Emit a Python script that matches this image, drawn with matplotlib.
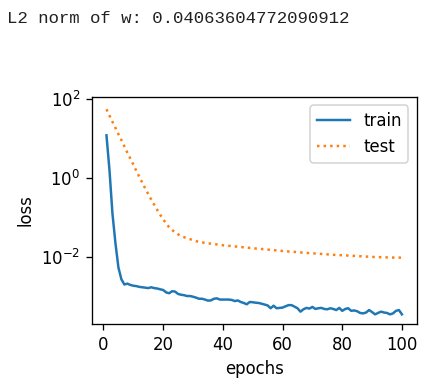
import matplotlib
matplotlib.use('Agg')
import matplotlib.pyplot as plt
from matplotlib.ticker import LogLocator, NullLocator

# Loss per epoch
epochs = list(range(1, 101))

train_loss = [
    12.0, 1.6, 0.126, 0.0224, 0.0054, 0.0027, 0.0020, 0.0021, 0.00195, 0.00186,
    0.00182, 0.00174, 0.0017, 0.00166, 0.00162, 0.0017, 0.00162, 0.00158, 0.00151, 0.00145,
    0.00126, 0.0012, 0.00135, 0.00132, 0.00115, 0.0011, 0.00107, 0.00102, 0.00102, 0.00098,
    0.00093, 0.00087, 0.00087, 0.00083, 0.00078, 0.00079, 0.00087, 0.00089, 0.00083, 0.00083,
    0.00083, 0.00083, 0.00081, 0.00076, 0.00079, 0.00072, 0.00068, 0.00063, 0.00072, 0.00071,
    0.00069, 0.00068, 0.00065, 0.00062, 0.00059, 0.0005, 0.00058, 0.0005, 0.00051, 0.00052,
    0.00056, 0.0006, 0.0006, 0.00055, 0.0005, 0.00041, 0.00047, 0.00051, 0.00049, 0.00054,
    0.00048, 0.0005, 0.00051, 0.00048, 0.00047, 0.0005, 0.00048, 0.00045, 0.00051, 0.00043,
    0.00048, 0.0005, 0.00043, 0.00044, 0.00042, 0.00038, 0.00037, 0.00039, 0.00045, 0.0004,
    0.00035, 0.00038, 0.00041, 0.00039, 0.00038, 0.00035, 0.00037, 0.00043, 0.00045, 0.00035,
]

test_loss = [
    55.0, 38.0, 26.3, 18.6, 12.9, 9.12, 6.31, 4.37, 3.09, 2.19,
    1.51, 1.07, 0.759, 0.537, 0.389, 0.282, 0.209, 0.155, 0.117, 0.0891,
    0.0708, 0.0562, 0.0479, 0.0417, 0.0372, 0.0339, 0.0316, 0.0295, 0.0282, 0.0263,
    0.0251, 0.0240, 0.0234, 0.0226, 0.0221, 0.0216, 0.0211, 0.0207, 0.0202, 0.0197,
    0.0194, 0.0191, 0.0187, 0.0184, 0.0181, 0.0178, 0.0175, 0.0172, 0.0169, 0.0166,
    0.0163, 0.0161, 0.0158, 0.0156, 0.0153, 0.0151, 0.0148, 0.0146, 0.0144, 0.0141,
    0.0139, 0.0137, 0.0136, 0.0134, 0.0132, 0.0130, 0.0128, 0.0126, 0.0125, 0.0123,
    0.0122, 0.0120, 0.0119, 0.0117, 0.0116, 0.0114, 0.0113, 0.0112, 0.0111, 0.0110,
    0.0109, 0.0108, 0.0107, 0.0106, 0.0105, 0.0104, 0.0103, 0.0102, 0.0101, 0.0100,
    0.0099, 0.0099, 0.0098, 0.0098, 0.0097, 0.0097, 0.0096, 0.0096, 0.0096, 0.0095,
]

w_norm_text = 'L2 norm of w: 0.04063604772090912'

dpi = 119
W, H = 429, 386
fig = plt.figure(figsize=(W / dpi, H / dpi), dpi=dpi)

# printed output line above the plot
fig.text(7 / W, 1 - 23 / H, w_norm_text, family='Liberation Mono',
         fontsize=10.55, color='#212121', va='baseline', ha='left')

ax = fig.add_axes([91.7 / W, 62 / H, 325 / W, 227 / H])
ax.plot(epochs, train_loss, '-', color='#1f77b4', lw=1.5, label='train')
ax.plot(epochs, test_loss, ':', color='#ff7f0e', lw=1.5, label='test')
ax.set_yscale('log')
ax.set_ylim(10 ** -3.7, 10 ** 2.05)
ax.yaxis.set_major_locator(LogLocator(base=10, numticks=4))
ax.yaxis.set_minor_locator(NullLocator())
ax.set_xlabel('epochs')
ax.set_ylabel('loss')
ax.legend(loc='upper right')

fig.savefig('out.png', dpi=dpi)
